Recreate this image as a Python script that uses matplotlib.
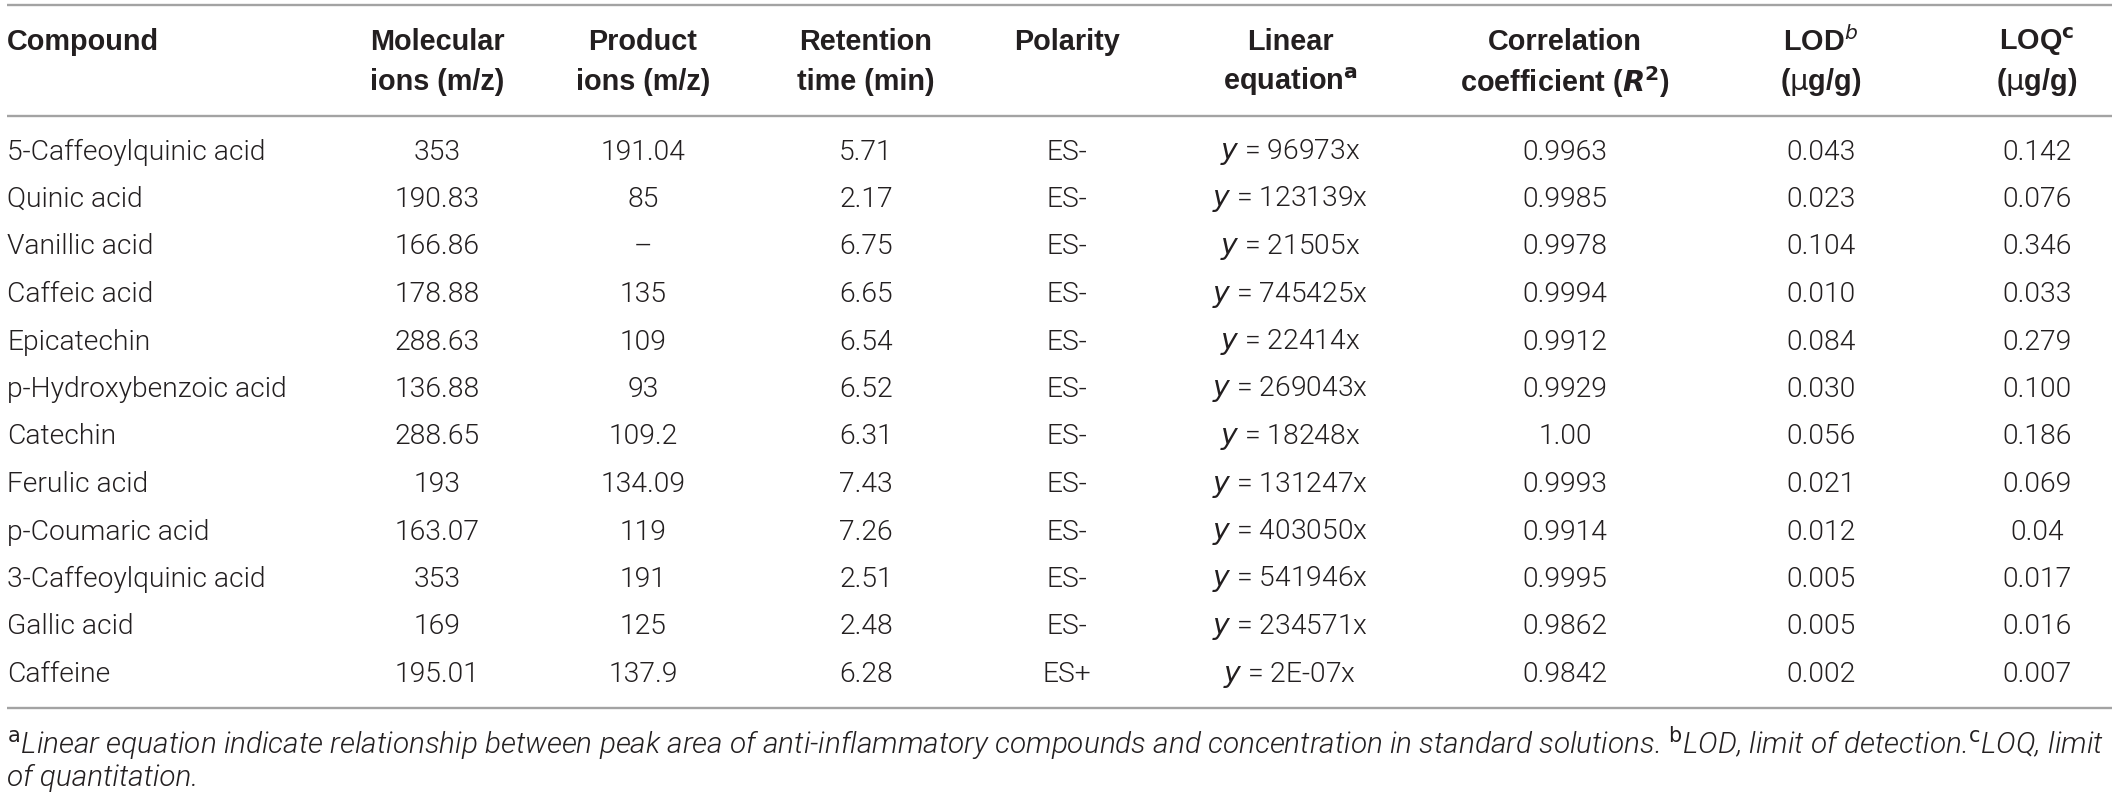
import matplotlib
matplotlib.use("Agg")
import matplotlib.pyplot as plt
from matplotlib import font_manager as fm

# ---------------- data ----------------
compounds = ["5-Caffeoylquinic acid", "Quinic acid", "Vanillic acid", "Caffeic acid",
             "Epicatechin", "p-Hydroxybenzoic acid", "Catechin", "Ferulic acid",
             "p-Coumaric acid", "3-Caffeoylquinic acid", "Gallic acid", "Caffeine"]
molecular_ions = ["353", "190.83", "166.86", "178.88", "288.63", "136.88", "288.65",
                  "193", "163.07", "353", "169", "195.01"]
product_ions = ["191.04", "85", "\u2013", "135", "109", "93", "109.2", "134.09", "119",
                "191", "125", "137.9"]
retention_time = ["5.71", "2.17", "6.75", "6.65", "6.54", "6.52", "6.31", "7.43", "7.26",
                  "2.51", "2.48", "6.28"]
polarity = ["ES-"] * 11 + ["ES+"]
slopes = ["96973", "123139", "21505", "745425", "22414", "269043", "18248", "131247",
          "403050", "541946", "234571", "2E-07"]
r2 = ["0.9963", "0.9985", "0.9978", "0.9994", "0.9912", "0.9929", "1.00", "0.9993",
      "0.9914", "0.9995", "0.9862", "0.9842"]
lod = ["0.043", "0.023", "0.104", "0.010", "0.084", "0.030", "0.056", "0.021", "0.012",
       "0.005", "0.005", "0.002"]
loq = ["0.142", "0.076", "0.346", "0.033", "0.279", "0.100", "0.186", "0.069", "0.04",
       "0.017", "0.016", "0.007"]

# ---------------- fonts ----------------
def pick(family, weight, style="normal"):
    for f in fm.fontManager.ttflist:
        if f.name == family and f.weight == weight and f.style == style:
            return f.fname
    return None

light = pick("Roboto", 300)
light_it = pick("Roboto", 300, "italic")
body_fp = fm.FontProperties(fname=light) if light else fm.FontProperties(family="Liberation Sans")
it_fp = (fm.FontProperties(fname=light_it) if light_it
         else fm.FontProperties(family="Liberation Sans", style="italic"))
bold_fp = fm.FontProperties(family="Liberation Sans", weight="bold")

plt.rcParams["mathtext.fontset"] = "custom"
if light:
    plt.rcParams["mathtext.rm"] = "Roboto:light"
    plt.rcParams["mathtext.it"] = "Roboto:italic:light"
else:
    plt.rcParams["mathtext.rm"] = "Liberation Sans"
    plt.rcParams["mathtext.it"] = "Liberation Sans:italic"
plt.rcParams["mathtext.bf"] = "Liberation Sans:bold"
try:
    plt.rcParams["mathtext.bfit"] = "Liberation Sans:italic:bold"
    BFIT = r"\mathbfit{R}"
except Exception:
    BFIT = r"\mathit{R}"

TXT = "#231f20"
LINE = "#a3a3a3"
BODY = 20.3
HEAD = 20.8
FOOT = 21.4

W, H = 2118, 799
fig = plt.figure(figsize=(W / 100, H / 100), dpi=100)
ax = fig.add_axes([0, 0, 1, 1])
ax.set_xlim(0, W)
ax.set_ylim(H, 0)
ax.axis("off")

# rules
for yy in (5, 116, 708):
    ax.plot([7, 2112], [yy, yy], color=LINE, lw=1.7, solid_capstyle="butt")

# column positions
x_comp = 7
col_x = [437, 643, 866, 1067, 1290, 1565, 1821, 2037]

# header
h1, h2 = 42, 82
def head(x, y, s, ha="center"):
    t = ax.text(x, y, s, ha=ha, va="center", color=TXT, fontproperties=bold_fp)
    t.set_fontsize(HEAD)
    return t

head(x_comp, h1, "Compound", ha="left")
head(col_x[0], h1, "Molecular"); head(col_x[0], h2, "ions (m/z)")
head(col_x[1], h1, "Product"); head(col_x[1], h2, "ions (m/z)")
head(col_x[2], h1, "Retention"); head(col_x[2], h2, "time (min)")
head(col_x[3], h1, "Polarity")
head(col_x[4], h1, "Linear"); head(col_x[4], h2, r"equation$^{\mathbf{a}}$")
head(col_x[5], h1, "Correlation"); head(col_x[5], h2, r"coefficient ($" + BFIT + r"^{\mathbf{2}}$)")
head(col_x[6], h1, r"LOD$^{\mathit{b}}$"); head(col_x[6], h2, r"($\mathrm{\mu}$g/g)")
head(col_x[7], h1, r"LOQ$^{\mathbf{c}}$"); head(col_x[7], h2, r"($\mathrm{\mu}$g/g)")

# body
y0, dy = 152, 47.5
def cell(x, y, s, ha="center"):
    t = ax.text(x, y, s, ha=ha, va="center", color=TXT, fontproperties=body_fp)
    t.set_fontsize(BODY)
    return t

for i in range(len(compounds)):
    y = y0 + i * dy
    cell(x_comp, y, compounds[i], ha="left")
    cell(col_x[0], y, molecular_ions[i])
    cell(col_x[1], y, product_ions[i])
    cell(col_x[2], y, retention_time[i])
    cell(col_x[3], y, polarity[i])
    cell(col_x[4], y, r"$\mathit{y}$ = " + slopes[i] + "x")
    cell(col_x[5], y, r2[i])
    cell(col_x[6], y, lod[i])
    cell(col_x[7], y, loq[i])

# footnote
foot1 = (r"$^{\mathrm{a}}$Linear equation indicate relationship between peak area of "
         r"anti-inflammatory compounds and concentration in standard solutions. "
         r"$^{\mathrm{b}}$LOD, limit of detection.$^{\mathrm{c}}$LOQ, limit")
foot2 = "of quantitation."
for yy, s in ((743, foot1), (778, foot2)):
    t = ax.text(x_comp, yy, s, ha="left", va="center", color=TXT, fontproperties=it_fp)
    t.set_fontsize(FOOT)

fig.savefig("out.png", dpi=100, facecolor="white")
